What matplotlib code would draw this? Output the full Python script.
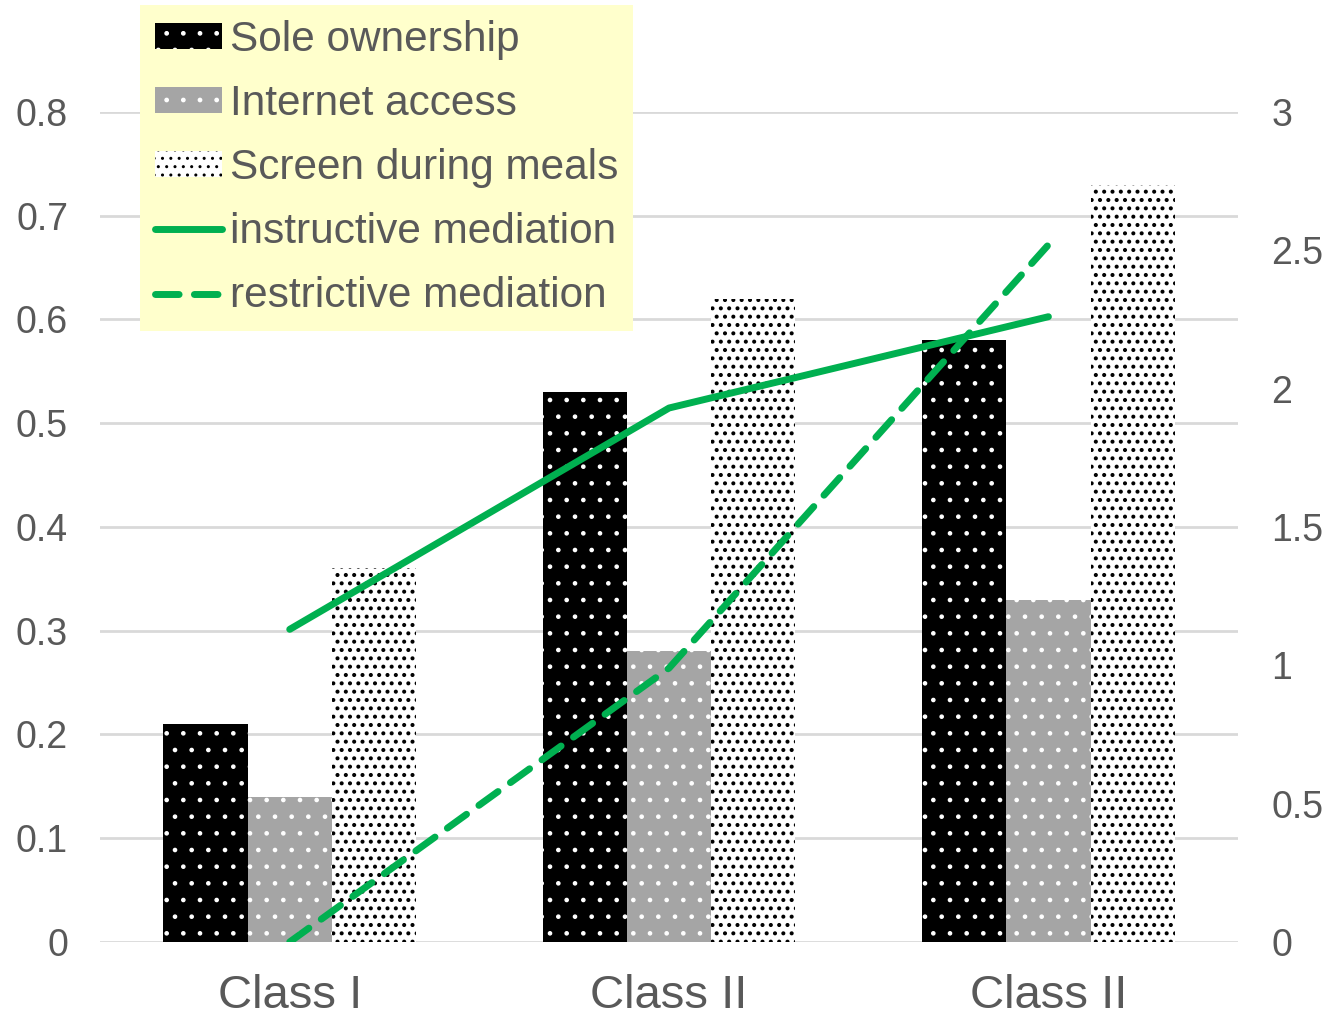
import numpy as np
import matplotlib.pyplot as plt
from matplotlib.patches import Patch
from matplotlib.lines import Line2D

plt.rcParams['font.family'] = ['Liberation Sans', 'DejaVu Sans']

categories = ['Class I', 'Class II', 'Class II']
sole_ownership = [0.21, 0.53, 0.58]
internet_access = [0.14, 0.28, 0.33]
screen_meals = [0.36, 0.62, 0.73]
instructive = [1.13, 1.93, 2.26]
restrictive = [0.0, 0.99, 2.52]

left_ticks = [0, 0.1, 0.2, 0.3, 0.4, 0.5, 0.6, 0.7, 0.8]
right_ticks = [0, 0.5, 1, 1.5, 2, 2.5, 3]

text_col = '#595959'
green = '#00B050'

fig = plt.figure(figsize=(13.27, 10.18), dpi=100)
ax = fig.add_axes([0.0754, 0.0747, 0.8576, 0.8153])
ax2 = ax.twinx()

x = np.arange(len(categories))
w = 0.222
with plt.rc_context({'hatch.linewidth': 0.9}):
    ax.bar(x - w, sole_ownership, w, color='black', edgecolor='white',
           hatch='.', linewidth=0, zorder=2)
    ax.bar(x, internet_access, w, color='#A5A5A5', edgecolor='white',
           hatch='.', linewidth=0, zorder=2)
    h_sole = Patch(facecolor='black', edgecolor='white', hatch='.', linewidth=0)
    h_net = Patch(facecolor='#A5A5A5', edgecolor='white', hatch='.', linewidth=0)
with plt.rc_context({'hatch.linewidth': 1.7}):
    ax.bar(x + w, screen_meals, w, color='white', edgecolor='black',
           hatch='..', linewidth=0, zorder=2)
    h_screen = Patch(facecolor='white', edgecolor='black', hatch='..', linewidth=0)

ax2.plot(x, instructive, color=green, lw=5, solid_capstyle='round')
ax2.plot(x, restrictive, color=green, lw=5, dashes=(3.4, 2.2),
         dash_capstyle='round')

ax.set_xlim(-0.5, 2.5)
ax.set_ylim(0, 0.8)
ax2.set_ylim(0, 3)
ax.set_yticks(left_ticks)
ax.set_yticklabels([f'{t:g}' for t in left_ticks])
ax2.set_yticks(right_ticks)
ax2.set_yticklabels([f'{t:g}' for t in right_ticks])
ax.set_xticks(x)
ax.set_xticklabels(categories)

ax.yaxis.grid(True, color='#D9D9D9', lw=2, zorder=0)
ax.set_axisbelow(True)
for a in (ax, ax2):
    for s in a.spines.values():
        s.set_visible(False)
ax.tick_params(axis='y', length=0, pad=23, labelsize=27, labelcolor=text_col)
ax2.tick_params(axis='y', length=0, pad=24, labelsize=27, labelcolor=text_col)
ax.tick_params(axis='x', length=0, pad=23, labelsize=34, labelcolor=text_col)

handles = [
    h_sole, h_net, h_screen,
    Line2D([], [], color=green, lw=5, solid_capstyle='round'),
    Line2D([], [], color=green, lw=5, dashes=(3.4, 2.2), dash_capstyle='round'),
]
labels = ['Sole ownership', 'Internet access', 'Screen during meals',
          'instructive mediation', 'restrictive mediation']
leg = fig.legend(handles, labels, loc='upper left',
                 bbox_to_anchor=(140 / 1327, 1 - 5 / 1018),
                 frameon=True, facecolor='#FFFFCC', edgecolor='none',
                 framealpha=1, fancybox=False, fontsize=30.5,
                 handlelength=1.58, handleheight=0.55, handletextpad=0.19,
                 labelspacing=0.57, borderpad=0.35, borderaxespad=0)
for t in leg.get_texts():
    t.set_color(text_col)

fig.savefig('out.png', dpi=100)
